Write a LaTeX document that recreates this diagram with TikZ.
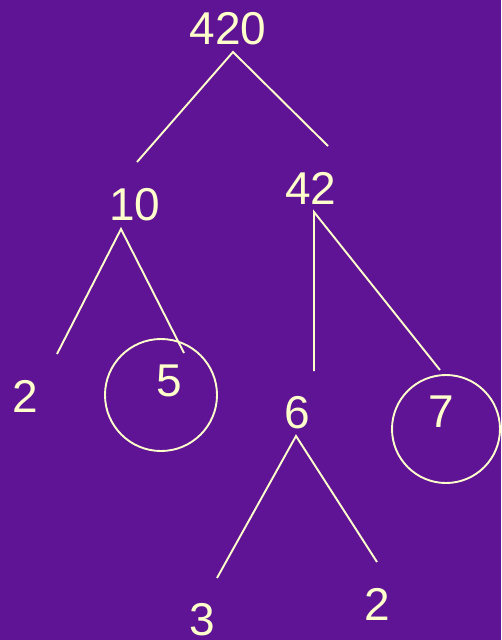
\documentclass[tikz,border=0pt]{standalone}
\usepackage{fontspec}
\setmainfont{Liberation Sans}
\definecolor{bgpurple}{HTML}{5F1496}
\definecolor{cream}{HTML}{FFFFCC}
\begin{document}
\begin{tikzpicture}[x=1pt,y=-1pt,
  num/.style={text=cream,font=\fontsize{46}{52}\selectfont,inner sep=0pt},
  link/.style={draw=cream,line width=1.9pt},
  ring/.style={draw=cream,line width=1.9pt,circle,inner sep=0pt}]
\fill[bgpurple] (0,0) rectangle (501,640);
\useasboundingbox (0,0) rectangle (501,640);
\node[num] (n420) at (228,29) {420};
\node[num] (n10) at (135,205) {10};
\node[num] (n42) at (311,188) {42};
\node[num] (n2a) at (25,396) {2};
\node[num] (n5) at (169,381) {5};
\node[num] (n6) at (297,413) {6};
\node[num] (n7) at (441,412) {7};
\node[num] (n3) at (202,620) {3};
\node[num] (n2b) at (377,604) {2};
\node[ring,minimum size=112pt] (c5) at (161,395) {};
\node[ring,minimum size=108pt] (c7) at (446,429) {};
\coordinate (a0) at (233,52);
\coordinate (a1) at (137,162);
\coordinate (a2) at (328,146);
\coordinate (b0) at (121,229);
\coordinate (b1) at (57,354);
\coordinate (b2) at (184,353);
\coordinate (d0) at (314,212);
\coordinate (d1) at (314,371);
\coordinate (d2) at (440,370);
\coordinate (e0) at (296,436);
\coordinate (e1) at (217,578);
\coordinate (e2) at (377,562);
\draw[link] (a1) -- (a0) -- (a2);
\draw[link] (b1) -- (b0) -- (b2);
\draw[link] (d1) -- (d0) -- (d2);
\draw[link] (e1) -- (e0) -- (e2);
\end{tikzpicture}
\end{document}
